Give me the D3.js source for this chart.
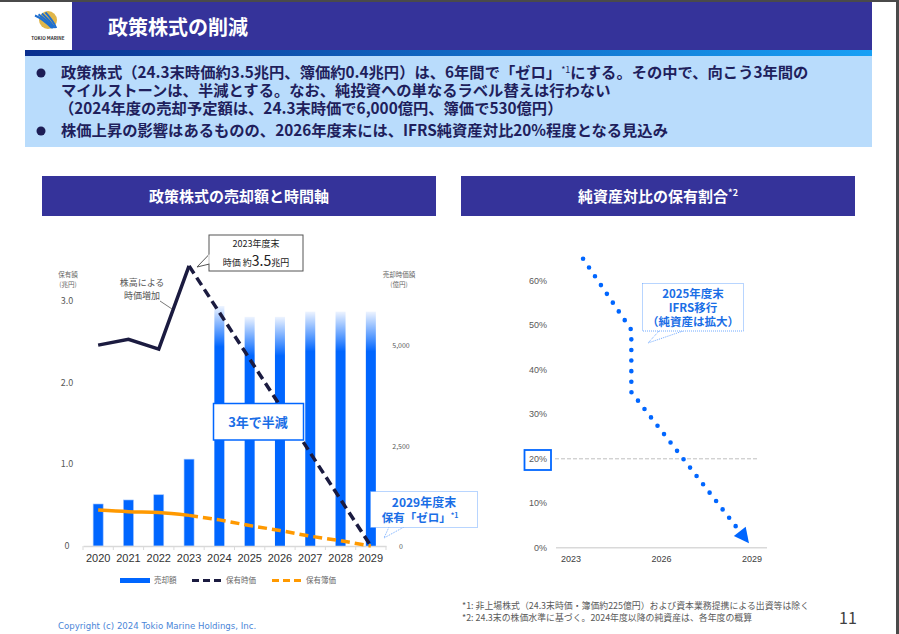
<!DOCTYPE html>
<html>
<head>
<meta charset="utf-8">
<script src="https://cdn.jsdelivr.net/npm/d3@7"></script>
<style>
  body { margin: 0; background: #fff; }
  text { font-family: "Noto Sans CJK JP", "Noto Sans", sans-serif; }
</style>
</head>
<body>
<div id="vis"></div>
<script>
// data
const years = ["2020", "2021", "2022", "2023", "2024", "2025", "2026", "2027", "2028", "2029"];
const saleAmount = [1045, 1145, 1275, 2160, 5970, 5700, 5700, 5830, 5830, 5830]; // 億円
const marketActual = [2.46, 2.53, 2.41, 3.43]; // 兆円 2020-2023
const marketPlan = [3.43, 2.86, 2.29, 1.72, 1.14, 0.57, 0]; // 2023-2029
const bookActual = [0.44, 0.42, 0.41, 0.375];
const bookPlan = [0.375, 0.32, 0.25, 0.19, 0.12, 0.065, 0];
const leftTicks = [0, 1.0, 2.0, 3.0];
const rightTicks = [0, 2500, 5000];

const ratioYears = [2023.4, 2025, 2025, 2028.9];
const ratioValues = [65, 49, 35, 1];
const ratioTicks = [0, 10, 20, 30, 40, 50, 60];
const ratioYearTicks = [2023, 2026, 2029];

const bullets = [
  ["政策株式（24.3末時価約3.5兆円、簿価約0.4兆円）は、6年間で「ゼロ」", "*1", "にする。その中で、向こう3年間の"],
  ["マイルストーンは、半減とする。なお、純投資への単なるラベル替えは行わない"],
  ["（2024年度の売却予定額は、24.3末時価で6,000億円、簿価で530億円）"],
  ["株価上昇の影響はあるものの、2026年度末には、IFRS純資産対比20%程度となる見込み"]
];

const navy = "#35339a";
const blue = "#0066ff";
const textBlue = "#1a6ee6";

let svg = d3.select("#vis").append("svg")
  .attr("width", 899).attr("height", 634);

let defs = svg.append("defs");
let lg = defs.append("linearGradient").attr("id", "hdrLine").attr("x1", 0).attr("x2", 1);
lg.append("stop").attr("offset", 0).attr("stop-color", "#0a2f8f");
lg.append("stop").attr("offset", 1).attr("stop-color", "#18a0f5");
let bg = defs.append("linearGradient").attr("id", "barFade").attr("x1", 0).attr("x2", 0).attr("y1", 0).attr("y2", 1);
bg.append("stop").attr("offset", 0).attr("stop-color", "#eef4ff");
bg.append("stop").attr("offset", 0.17).attr("stop-color", blue);
bg.append("stop").attr("offset", 1).attr("stop-color", blue);

// frame edges
svg.append("rect").attr("x", 0).attr("y", 0).attr("width", 899).attr("height", 2).attr("fill", "#4a4a4a");
svg.append("rect").attr("x", 896).attr("y", 0).attr("width", 3).attr("height", 634).attr("fill", "#4a4a4a");

// header band
svg.append("rect").attr("x", 72).attr("y", 2).attr("width", 800).attr("height", 50).attr("fill", navy);
svg.append("rect").attr("x", 25).attr("y", 50).attr("width", 847).attr("height", 6).attr("fill", "url(#hdrLine)");
svg.append("text").attr("x", 108).attr("y", 35).attr("fill", "#fff")
  .attr("font-size", 20).attr("font-weight", "bold").text("政策株式の削減");

// logo
let logo = svg.append("g").attr("transform", "translate(48,20)");
logo.append("circle").attr("r", 9).attr("fill", "#e0b64a");
[-5, -1.5, 2, 5.5].forEach(function (o) {
  logo.append("path").attr("d", `M${-8 + o},${-6 - o * 0.3} Q${o},${o * 0.2} ${6 + o * 0.4},${8}`)
    .attr("stroke", "#1f6fd0").attr("stroke-width", 2).attr("fill", "none");
});
svg.append("text").attr("x", 48).attr("y", 40).attr("text-anchor", "middle")
  .attr("font-size", 4.6).attr("fill", "#333").attr("font-weight", "bold").text("TOKIO MARINE");

// bullet box
svg.append("rect").attr("x", 25).attr("y", 56).attr("width", 847).attr("height", 91).attr("fill", "#b9dcfc");
const lineY = [78, 96, 114, 136];
svg.append("circle").attr("cx", 41).attr("cy", 73).attr("r", 4.5).attr("fill", "#1d1d55");
svg.append("circle").attr("cx", 41).attr("cy", 131).attr("r", 4.5).attr("fill", "#1d1d55");
bullets.forEach(function (parts, i) {
  let t = svg.append("text").attr("x", i == 2 ? 59 : 61).attr("y", lineY[i])
    .attr("font-size", 15.3).attr("font-weight", "bold").attr("fill", "#1f1f5c");
  parts.forEach(function (p, j) {
    if (p == "*1") {
      t.append("tspan").attr("font-size", 9).attr("dy", -5).attr("font-weight", "normal").text(p);
    } else {
      t.append("tspan").attr("dy", j > 0 ? 5 : 0).text(p);
    }
  });
});

// sub headers
function subHeader(x, label, sup) {
  svg.append("rect").attr("x", x).attr("y", 176).attr("width", 394).attr("height", 40).attr("fill", navy);
  let t = svg.append("text").attr("x", x + 197).attr("y", 202).attr("text-anchor", "middle")
    .attr("fill", "#fff").attr("font-size", 15).attr("font-weight", "bold").text(label);
  if (sup) t.append("tspan").attr("font-size", 9).attr("dy", -6).text(sup);
}
subHeader(42, "政策株式の売却額と時間軸");
subHeader(461, "純資産対比の保有割合", "*2");

// ---------- left chart ----------
let x = d3.scaleBand().domain(years).range([83, 386]);
let yL = d3.scaleLinear().domain([0, 3.0]).range([546, 301]);
let yR = d3.scaleLinear().domain([0, 5000]).range([546, 345]);
let cx = d => x(d) + x.bandwidth() / 2;

let left = svg.append("g");

left.selectAll(".bar").data(years).join("rect")
  .attr("x", d => cx(d) - 5)
  .attr("width", 10)
  .attr("y", (d, i) => yR(saleAmount[i]))
  .attr("height", (d, i) => 546 - yR(saleAmount[i]))
  .attr("fill", (d, i) => i >= 4 ? "url(#barFade)" : blue)
  .attr("stroke", (d, i) => i < 4 ? "#9cc2ff" : "none")
  .attr("stroke-width", 0.6);

// x axis
let xAxis = left.append("g").attr("transform", "translate(0,546)")
  .call(d3.axisBottom(x).tickSize(0).tickPadding(8));
xAxis.select(".domain").attr("stroke", "#d9d9d9").attr("stroke-width", 1.5);
xAxis.selectAll("text").attr("font-size", 11).attr("fill", "#333")
  .style("font-family", "'Liberation Sans', Arial, sans-serif");
left.selectAll(".sep").data(d3.range(years.length + 1)).join("line")
  .attr("x1", d => 83 + d * x.step()).attr("x2", d => 83 + d * x.step())
  .attr("y1", 546).attr("y2", 550).attr("stroke", "#d9d9d9");

// y axes
left.selectAll(".lt").data(leftTicks).join("text")
  .attr("x", 67).attr("y", d => yL(d) + 3).attr("text-anchor", "middle")
  .attr("font-size", 9).attr("fill", "#595959")
  .text(d => d == 0 ? "0" : d3.format(".1f")(d));
left.selectAll(".rt").data(rightTicks).join("text")
  .attr("x", 401).attr("y", d => yR(d) + 3).attr("text-anchor", "middle")
  .attr("font-size", 7).attr("fill", "#595959")
  .text(d => d3.format(",")(d));
[["保有額", 277], ["(兆円)", 287]].forEach(function (r) {
  left.append("text").attr("x", 68).attr("y", r[1]).attr("text-anchor", "middle")
    .attr("font-size", 6.5).attr("fill", "#666").text(r[0]);
});
[["売却時価額", 277], ["(億円)", 287]].forEach(function (r) {
  left.append("text").attr("x", 399).attr("y", r[1]).attr("text-anchor", "middle")
    .attr("font-size", 6.5).attr("fill", "#666").text(r[0]);
});

// lines
let lineL = d3.line().x(d => cx(d[0])).y(d => yL(d[1]));
let lineSmooth = d3.line().x(d => cx(d[0])).y(d => yL(d[1])).curve(d3.curveMonotoneX);
left.append("path").datum(years.slice(3).map((yv, i) => [yv, bookPlan[i]]))
  .attr("d", lineL).attr("fill", "none").attr("stroke", "#ff9900")
  .attr("stroke-width", 3.5).attr("stroke-dasharray", "9 5");
left.append("path").datum(years.slice(0, 4).map((yv, i) => [yv, bookActual[i]]))
  .attr("d", lineSmooth).attr("fill", "none").attr("stroke", "#ff9900").attr("stroke-width", 3.5);
left.append("path").datum(years.slice(3).map((yv, i) => [yv, marketPlan[i]]))
  .attr("d", lineL).attr("fill", "none").attr("stroke", "#1b1b40")
  .attr("stroke-width", 3.5).attr("stroke-dasharray", "9 5");
left.append("path").datum(years.slice(0, 4).map((yv, i) => [yv, marketActual[i]]))
  .attr("d", lineL).attr("fill", "none").attr("stroke", "#1b1b40").attr("stroke-width", 3.5);

// annotations
left.append("path").attr("d", "M209.5,254 L197,267 L209.5,264").attr("fill", "#fff").attr("stroke", "#555");
left.append("rect").attr("x", 209).attr("y", 235).attr("width", 94).attr("height", 36)
  .attr("fill", "#fff").attr("stroke", "#555");
left.append("line").attr("x1", 209).attr("x2", 209).attr("y1", 254.6).attr("y2", 263.4)
  .attr("stroke", "#fff").attr("stroke-width", 1.4);
left.append("text").attr("x", 256).attr("y", 247).attr("text-anchor", "middle")
  .attr("font-size", 9).attr("fill", "#222").text("2023年度末");
let t35 = left.append("text").attr("x", 256).attr("y", 266).attr("text-anchor", "middle")
  .attr("font-size", 9).attr("fill", "#222");
t35.append("tspan").text("時価 約");
t35.append("tspan").attr("font-size", 14).text("3.5");
t35.append("tspan").text("兆円");

left.append("text").attr("x", 142).attr("y", 286).attr("text-anchor", "middle")
  .attr("font-size", 9).attr("fill", "#555").text("株高による");
left.append("text").attr("x", 142).attr("y", 299).attr("text-anchor", "middle")
  .attr("font-size", 9).attr("fill", "#555").text("時価増加");
left.append("line").attr("x1", 160).attr("y1", 301).attr("x2", 172).attr("y2", 309)
  .attr("stroke", "#555").attr("stroke-width", 0.8);

left.append("rect").attr("x", 213.5).attr("y", 403.5).attr("width", 90).attr("height", 36.5)
  .attr("fill", "#fff").attr("stroke", blue).attr("stroke-width", 1.5);
left.append("text").attr("x", 258).attr("y", 426.5).attr("text-anchor", "middle")
  .attr("font-size", 13).attr("font-weight", "bold").attr("fill", textBlue).text("3年で半減");

left.append("path").attr("d", "M389,527 L384,538 L404,527").attr("fill", "#fff")
  .attr("stroke", "#4d94ff").attr("stroke-width", 0.8).attr("stroke-dasharray", "1 1");
left.append("rect").attr("x", 370.5).attr("y", 491.5).attr("width", 107).attr("height", 36)
  .attr("fill", "#fff").attr("stroke", "#4d94ff").attr("stroke-width", 0.8).attr("stroke-dasharray", "1 1");
left.append("text").attr("x", 424).attr("y", 507).attr("text-anchor", "middle")
  .attr("font-size", 12).attr("font-weight", "bold").attr("fill", textBlue).text("2029年度末");
let tz = left.append("text").attr("x", 420).attr("y", 522).attr("text-anchor", "middle")
  .attr("font-size", 11.5).attr("font-weight", "bold").attr("fill", textBlue).text("保有「ゼロ」");
tz.append("tspan").attr("font-size", 7).attr("dy", -4).text("*1");

// legend
let leg = left.append("g");
leg.append("rect").attr("x", 120).attr("y", 578).attr("width", 30).attr("height", 5).attr("fill", blue);
leg.append("text").attr("x", 154).attr("y", 583).attr("font-size", 7.5).attr("fill", "#666").text("売却額");
leg.append("line").attr("x1", 192).attr("x2", 222).attr("y1", 580.5).attr("y2", 580.5)
  .attr("stroke", "#1b1b40").attr("stroke-width", 3).attr("stroke-dasharray", "7 4");
leg.append("text").attr("x", 226).attr("y", 583).attr("font-size", 7.5).attr("fill", "#666").text("保有時価");
leg.append("line").attr("x1", 272).attr("x2", 302).attr("y1", 580.5).attr("y2", 580.5)
  .attr("stroke", "#ff9900").attr("stroke-width", 3).attr("stroke-dasharray", "7 4");
leg.append("text").attr("x", 306).attr("y", 583).attr("font-size", 7.5).attr("fill", "#666").text("保有簿価");

// ---------- right chart ----------
let xr = d3.scaleLinear().domain([2023, 2029]).range([571, 752]);
let yr = d3.scaleLinear().domain([0, 60]).range([547.7, 281]);
let right = svg.append("g");

right.append("line").attr("x1", 556).attr("x2", 767).attr("y1", yr(0)).attr("y2", yr(0))
  .attr("stroke", "#d9d9d9").attr("stroke-width", 1.5);
right.append("line").attr("x1", 555).attr("x2", 758).attr("y1", yr(20)).attr("y2", yr(20))
  .attr("stroke", "#bfbfbf").attr("stroke-dasharray", "4 2");
right.selectAll(".yt").data(ratioTicks).join("text")
  .attr("x", 547).attr("y", d => yr(d) + 3).attr("text-anchor", "end")
  .attr("font-size", 9).attr("fill", "#595959")
  .style("font-family", "'Liberation Sans', Arial, sans-serif")
  .text(d => d + "%");
right.selectAll(".xt").data(ratioYearTicks).join("text")
  .attr("x", d => xr(d)).attr("y", 562).attr("text-anchor", "middle")
  .attr("font-size", 9).attr("fill", "#404040")
  .style("font-family", "'Liberation Sans', Arial, sans-serif")
  .text(d => d);
right.append("rect").attr("x", 524.5).attr("y", 450).attr("width", 26.5).attr("height", 20)
  .attr("fill", "none").attr("stroke", blue).attr("stroke-width", 1.8);

// dotted path ending at arrow base, arrowhead drawn as a triangle
let pts = ratioYears.map((yv, i) => [xr(yv), yr(ratioValues[i])]);
let tip = pts[pts.length - 1], prev = pts[pts.length - 2];
let ang = Math.atan2(tip[1] - prev[1], tip[0] - prev[0]);
let headLen = 15, headHalf = 7.5;
let base = [tip[0] - headLen * Math.cos(ang), tip[1] - headLen * Math.sin(ang)];
let pathPts = pts.slice(0, -1).concat([[base[0] + 3 * Math.cos(ang), base[1] + 3 * Math.sin(ang)]]);
right.append("path").datum(pathPts)
  .attr("d", d3.line()).attr("fill", "none").attr("stroke", blue).attr("stroke-width", 4.6)
  .attr("stroke-linecap", "round").attr("stroke-dasharray", "0 10.6");
right.append("path")
  .attr("d", `M${tip[0]},${tip[1]} L${base[0] - headHalf * Math.sin(ang)},${base[1] + headHalf * Math.cos(ang)} L${base[0] + headHalf * Math.sin(ang)},${base[1] - headHalf * Math.cos(ang)} Z`)
  .attr("fill", blue);

right.append("path").attr("d", "M659,331 L648,343 L683,331").attr("fill", "#fff")
  .attr("stroke", "#4d94ff").attr("stroke-width", 0.8).attr("stroke-dasharray", "1 1");
right.append("rect").attr("x", 642.5).attr("y", 283.5).attr("width", 101).attr("height", 47.5)
  .attr("fill", "#fff").attr("stroke", "#4d94ff").attr("stroke-width", 0.8).attr("stroke-dasharray", "1 1");
["2025年度末", "IFRS移行", "（純資産は拡大）"].forEach(function (s, i) {
  right.append("text").attr("x", 693).attr("y", 297.5 + i * 14).attr("text-anchor", "middle")
    .attr("font-size", 11.5).attr("font-weight", "bold").attr("fill", textBlue).text(s);
});

// footnotes
svg.append("text").attr("x", 462).attr("y", 609).attr("font-size", 8.9).attr("fill", "#595959")
  .text("*1: 非上場株式（24.3末時価・簿価約225億円）および資本業務提携による出資等は除く");
svg.append("text").attr("x", 462).attr("y", 621).attr("font-size", 8.9).attr("fill", "#595959")
  .text("*2: 24.3末の株価水準に基づく。2024年度以降の純資産は、各年度の概算");
svg.append("text").attr("x", 848).attr("y", 624).attr("text-anchor", "middle")
  .attr("font-size", 16).attr("fill", "#404040").text("11");
svg.append("text").attr("x", 58).attr("y", 629).attr("font-size", 8.6).attr("fill", "#4a86d8")
  .style("font-family", "'DejaVu Sans', sans-serif")
  .text("Copyright (c) 2024 Tokio Marine Holdings, Inc.");
</script>
</body>
</html>
